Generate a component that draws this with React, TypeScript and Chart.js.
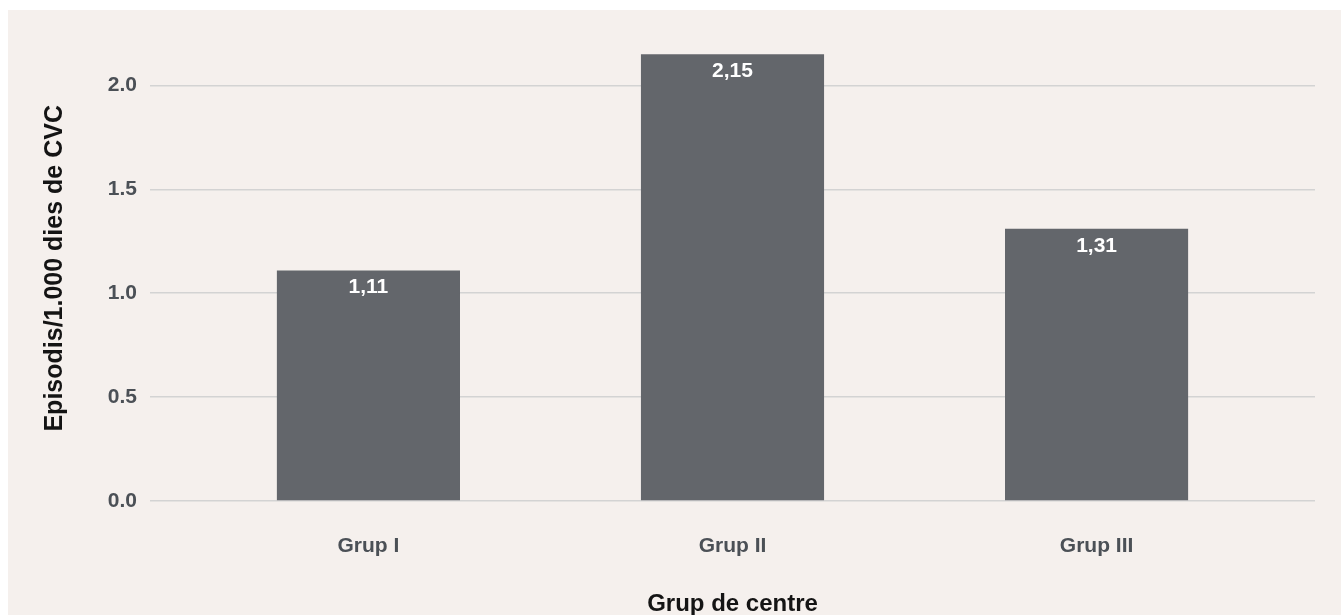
import React, { useEffect, useRef } from "react";
import { Chart, registerables } from "chart.js";

Chart.register(...registerables);

const categories = ["Grup I", "Grup II", "Grup III"];
const values = [1.11, 2.15, 1.31];
const yTicks = [0, 0.5, 1.0, 1.5, 2.0];
const yTitle = "Episodis/1.000 dies de CVC";
const xTitle = "Grup de centre";

const FONT = "'Liberation Sans', Arial, Helvetica, sans-serif";
const BG = "#f5f0ed";
const BAR = "#63666b";
const TICK = "#4b5056";
const TITLE = "#141414";

const valueLabels = {
  id: "valueLabels",
  afterDatasetsDraw(chart: any) {
    const ctx = chart.ctx;
    const meta = chart.getDatasetMeta(0);
    ctx.save();
    ctx.fillStyle = "#ffffff";
    ctx.font = `bold 21px ${FONT}`;
    ctx.textAlign = "center";
    ctx.textBaseline = "middle";
    meta.data.forEach((el: any, i: number) => {
      const txt = values[i].toFixed(2).replace(".", ",");
      ctx.fillText(txt, el.x, el.y + 17);
    });
    ctx.restore();
  },
};

export default function App() {
  const ref = useRef<HTMLCanvasElement | null>(null);
  useEffect(() => {
    if (!ref.current) return;
    const chart = new Chart(ref.current, {
      type: "bar",
      data: {
        datasets: [
          {
            data: values.map((v, i) => ({ x: i, y: v })),
            backgroundColor: BAR,
            borderWidth: 0,
            categoryPercentage: 1,
            barPercentage: 0.503,
          },
        ],
      },
      options: {
        animation: false,
        responsive: false,
        layout: { padding: { top: 20, right: 26, left: 0, bottom: 0 } },
        plugins: { legend: { display: false }, tooltip: { enabled: false } },
        scales: {
          x: {
            type: "linear",
            offset: false,
            min: -0.6,
            max: 2.6,
            afterBuildTicks: (scale: any) => {
              scale.ticks = categories.map((_, i) => ({ value: i }));
            },
            afterFit: (scale: any) => {
              scale.height = 114;
            },
            grid: { display: false, drawTicks: false },
            border: { display: false },
            ticks: {
              autoSkip: false,
              maxRotation: 0,
              padding: 33,
              color: TICK,
              font: { family: FONT, size: 21, weight: "bold" },
              callback: (v: any) => categories[Math.round(Number(v))] ?? "",
            },
            title: {
              display: true,
              text: xTitle,
              color: TITLE,
              padding: { top: 0, bottom: -1 },
              font: { family: FONT, size: 24, weight: "bold", lineHeight: 1 },
            },
          },
          y: {
            type: "linear",
            min: 0,
            max: 2.24,
            afterBuildTicks: (scale: any) => {
              scale.ticks = yTicks.map((v) => ({ value: v }));
            },
            afterFit: (scale: any) => {
              scale.width = 142;
            },
            grid: { color: "#d3d3d3", lineWidth: 1.5, drawTicks: false },
            border: { display: false },
            ticks: {
              padding: 13,
              color: TICK,
              font: { family: FONT, size: 21, weight: "bold" },
              callback: (v: any) => Number(v).toFixed(1),
            },
            title: {
              display: true,
              text: yTitle,
              color: TITLE,
              padding: { top: 35, bottom: 0 },
              font: { family: FONT, size: 25, weight: "bold", lineHeight: 1 },
            },
          },
        },
      },
      plugins: [valueLabels],
    } as any);
    return () => chart.destroy();
  }, []);
  return (
    <div
      style={{
        position: "fixed",
        left: 8,
        top: 10,
        width: 1333,
        height: 605,
        background: BG,
      }}
    >
      <canvas ref={ref} width={1333} height={605} style={{ display: "block" }} />
    </div>
  );
}
